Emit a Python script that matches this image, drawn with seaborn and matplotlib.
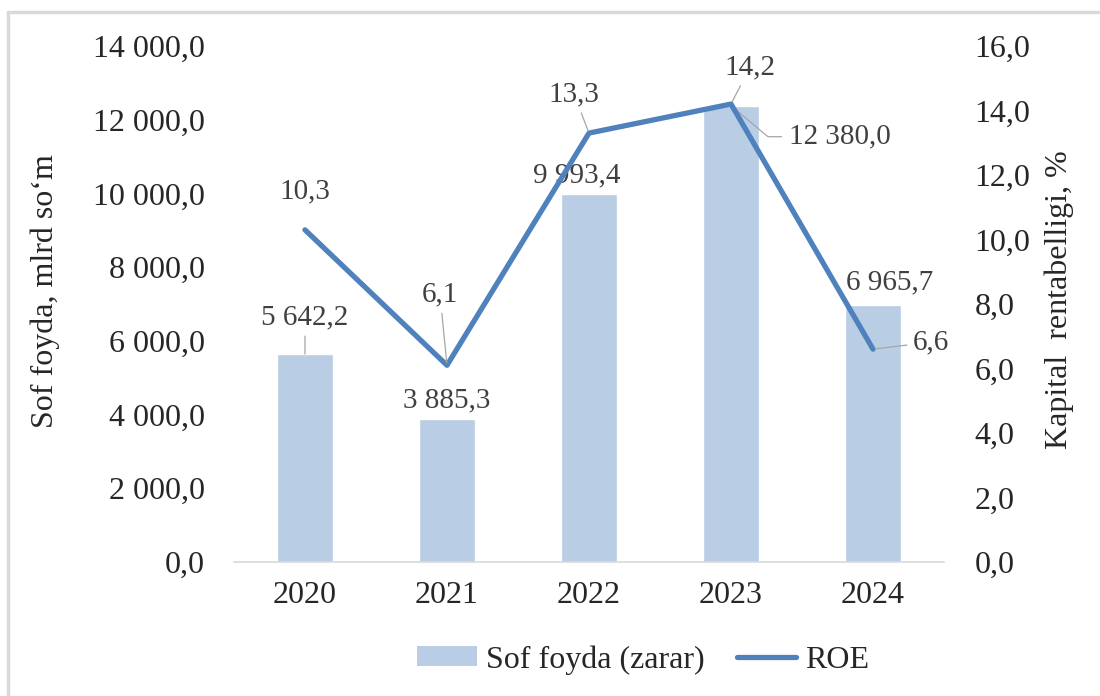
import numpy as np
import pandas as pd
import matplotlib
matplotlib.use("Agg")
import matplotlib.pyplot as plt
import matplotlib.ticker as mtick
from matplotlib.patches import Patch
from matplotlib.lines import Line2D
import seaborn as sns

# ── data ──────────────────────────────────────────────────────────────────────
years = ["2020", "2021", "2022", "2023", "2024"]
profit = [5642.2, 3885.3, 9993.4, 12380.0, 6965.7]   # mlrd so'm
roe = [10.3, 6.1, 13.3, 14.2, 6.6]                   # %

# label offsets in pixels (dx, dy), and whether a leader line is drawn
bar_lbl = [(0, 24, True), (0, 5, False), (-12, 5, False), (58, -31, True), (17, 10, False)]
roe_lbl = [(0, 25, False), (-7, 58, True), (-15, 26, True), (19, 24, True), (40, 7, True)]

# ── style ─────────────────────────────────────────────────────────────────────
BAR = "#B9CDE5"
LINE = "#4F81BD"
TXT = "#262626"
LBL = "#404040"
LEAD = "#A6A6A6"
FS = 23      # ticks, axis titles, legend
FS_LBL = 21  # data labels

sns.set_theme(style="white")
plt.rcParams.update({
    "font.family": ["Liberation Serif", "DejaVu Serif"],
    "font.size": FS,
    "xtick.labelsize": FS,
    "ytick.labelsize": FS,
    "text.color": TXT,
    "axes.labelcolor": TXT,
    "xtick.color": TXT,
    "ytick.color": TXT,
})


def fmt_num(v, dec=1):
    s = f"{v:,.{dec}f}"
    return s.replace(",", " ").replace(".", ",")


df = pd.DataFrame({"year": years, "profit": profit, "roe": roe})

fig = plt.figure(figsize=(11, 6.96), dpi=100)
ax = fig.add_axes([0.2127, 0.1925, 0.6455, 0.7414])

sns.barplot(data=df, x="year", y="profit", color=BAR, width=0.4,
            saturation=1, ax=ax)
ax.set_xlim(-0.5, 4.5)
ax.set_ylim(0, 14000)
ax.set_yticks(np.arange(0, 14001, 2000))
ax.yaxis.set_major_formatter(mtick.FuncFormatter(lambda v, p: fmt_num(v)))
ax.set_xlabel("")
ax.set_ylabel("")
ax.tick_params(axis="y", length=0, pad=21, labelsize=FS)
ax.tick_params(axis="x", length=0, pad=14, labelsize=FS)
for s in ["top", "left", "right"]:
    ax.spines[s].set_visible(False)
ax.spines["bottom"].set_color("#D9D9D9")
ax.spines["bottom"].set_linewidth(1.2)

ax2 = ax.twinx()
sns.lineplot(x=np.arange(len(years)), y=roe, color=LINE, lw=3.8, ax=ax2)
ax2.set_ylim(0, 16)
ax2.set_yticks(np.arange(0, 16.1, 2))
ax2.yaxis.set_major_formatter(mtick.FuncFormatter(lambda v, p: fmt_num(v)))
ax2.tick_params(axis="y", length=0, pad=22, labelsize=FS)
for s in ["top", "left", "right", "bottom"]:
    ax2.spines[s].set_visible(False)

# bar labels
for i, (v, (dx, dy, lead)) in enumerate(zip(profit, bar_lbl)):
    if i == 3:
        ax.annotate(fmt_num(v), (i, v), xytext=(dx, dy), textcoords="offset pixels",
                    ha="left", va="center", color=LBL, fontsize=FS_LBL,
                    arrowprops=dict(arrowstyle="-", color=LEAD, lw=0.9,
                                    shrinkA=3, shrinkB=0,
                                    connectionstyle="angle,angleA=0,angleB=-40,rad=0"))
    else:
        ax.annotate(fmt_num(v), (i, v), xytext=(dx, dy), textcoords="offset pixels",
                    ha="center", va="bottom", color=LBL, fontsize=FS_LBL,
                    arrowprops=dict(arrowstyle="-", color=LEAD, lw=0.9,
                                    shrinkA=2, shrinkB=0) if lead else None)

# ROE labels
for i, (v, (dx, dy, lead)) in enumerate(zip(roe, roe_lbl)):
    ha, va = ("left", "center") if i == 4 else ("center", "bottom")
    ax2.annotate(fmt_num(v), (i, v), xytext=(dx, dy), textcoords="offset pixels",
                 ha=ha, va=va, color=LBL, fontsize=FS_LBL,
                 arrowprops=dict(arrowstyle="-", color=LEAD, lw=0.9,
                                 shrinkA=2, shrinkB=2) if lead else None)

fig.text(0.041, 0.582, "Sof foyda, mlrd so\u2018m", rotation=90,
         ha="center", va="center", fontsize=FS, color=TXT)
fig.text(0.963, 0.57, "Kapital  rentabelligi, %", rotation=90,
         ha="center", va="center", fontsize=FS, color=TXT)

handles = [Patch(facecolor=BAR, edgecolor="none", label="Sof foyda (zarar)"),
           Line2D([0], [0], color=LINE, lw=3.8, label="ROE")]
fig.legend(handles=handles, loc="center", bbox_to_anchor=(0.585, 0.052), ncol=2,
           frameon=False, fontsize=FS, handlelength=1.85, handleheight=0.6,
           handletextpad=0.3, columnspacing=1.0)

# light frame on the left and top of the picture
fig.add_artist(Line2D([0.0077, 0.0077], [0, 0.983], color="#D9D9D9", lw=2.5,
                      transform=fig.transFigure))
fig.add_artist(Line2D([0.0077, 1], [0.983, 0.983], color="#D9D9D9", lw=2.5,
                      transform=fig.transFigure))

fig.savefig("out.png", dpi=100, facecolor="white")
